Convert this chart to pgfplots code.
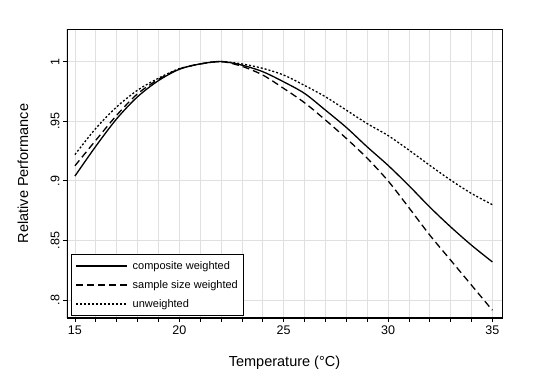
\documentclass[border=0pt]{standalone}
\usepackage{fontspec}
\setmainfont{Liberation Sans}
\usepackage{pgfplots}
\pgfplotsset{compat=1.18}
\begin{document}
\begin{tikzpicture}[x=1pt,y=1pt]
\path[use as bounding box] (0,0) rectangle (550,384);
\begin{axis}[
  at={(67pt,66pt)}, anchor=south west,
  scale only axis, width=435pt, height=289pt,
  xmin=14.62, xmax=35.46, ymin=0.785, ymax=1.0273,
  /pgf/number format/assume math mode=true,
  xtick={15,20,25,30,35},
  minor xtick={16,17,18,19,21,22,23,24,26,27,28,29,31,32,33,34},
  ytick={0.8,0.85,0.9,0.95,1},
  yticklabels={.8,.85,.9,.95,1},
  xtick pos=bottom, ytick pos=left,
  tick align=outside,
  major tick length=4pt, minor tick length=4pt,
  every tick/.style={black, line width=0.7pt},
  xmajorgrids, xminorgrids, ymajorgrids,
  grid style={black!12, line width=0.7pt},
  axis line style={line width=0.9pt},
  tick label style={font=\fontsize{12.5}{14}\selectfont},
  yticklabel style={rotate=90, anchor=south},
  xlabel={Temperature (°C)},
  ylabel={Relative Performance},
  label style={font=\fontsize{14.5}{16}\selectfont},
  xlabel style={at={(axis description cs:0.5,0)}, anchor=center, yshift=-45pt},
  ylabel style={at={(axis description cs:0,0.5)}, anchor=center, rotate=0, yshift=44pt},
  legend style={at={(rel axis cs:0.009,0.007)}, anchor=south west, draw=black,
    line width=0.8pt, font=\fontsize{11}{12}\selectfont, row sep=5.5pt,
    column sep=3pt, inner xsep=4pt, inner ysep=5pt},
  legend cell align=left,
  legend image code/.code={\draw[#1, line width=1.4pt] (0pt,0pt) -- (51pt,0pt);},
]
\draw[line width=1.6pt] (rel axis cs:0,0) -- (rel axis cs:1,0);
\draw[line width=1.2pt] (rel axis cs:0,0) -- (rel axis cs:0,1);
\addplot[black, line width=1.3pt, smooth] coordinates {
(15,0.904) (16,0.929) (17,0.952) (18,0.9705) (19,0.984) (20,0.9935) (21,0.998)
(22,1.000) (23,0.997) (24,0.9915) (25,0.983) (26,0.9733) (27,0.9593) (28,0.9448)
(29,0.9285) (30,0.913) (31,0.896) (32,0.878) (33,0.8614) (34,0.846) (35,0.832)};
\addlegendentry{composite weighted}
\addplot[black, line width=1.3pt, smooth, dash pattern=on 7pt off 4pt] coordinates {
(15,0.9126) (16,0.934) (17,0.955) (18,0.973) (19,0.985) (20,0.9938) (21,0.998)
(22,1.000) (23,0.996) (24,0.9887) (25,0.9775) (26,0.9655) (27,0.951) (28,0.9356)
(29,0.919) (30,0.900) (31,0.8775) (32,0.8545) (33,0.8335) (34,0.8125) (35,0.7915)};
\addlegendentry{sample size weighted}
\addplot[black, line width=1.3pt, smooth, dash pattern=on 2pt off 2pt] coordinates {
(15,0.922) (16,0.944) (17,0.962) (18,0.976) (19,0.986) (20,0.994) (21,0.998)
(22,1.000) (23,0.998) (24,0.9943) (25,0.9887) (26,0.980) (27,0.9705) (28,0.9593)
(29,0.948) (30,0.938) (31,0.9258) (32,0.913) (33,0.9006) (34,0.8894) (35,0.880)};
\addlegendentry{unweighted}
\end{axis}
\end{tikzpicture}
\end{document}
